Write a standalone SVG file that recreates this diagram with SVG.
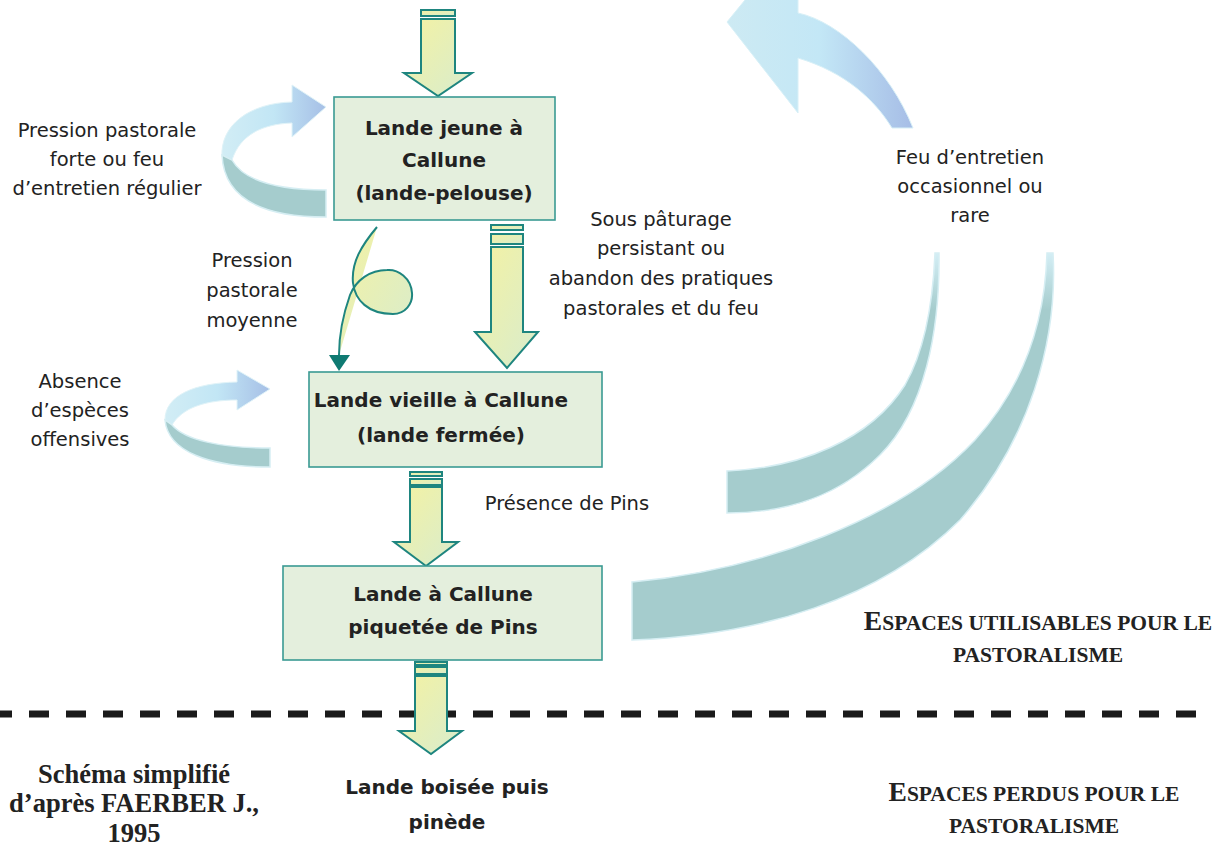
<svg xmlns="http://www.w3.org/2000/svg" width="1220" height="846" viewBox="0 0 1220 846">
<defs>
<linearGradient id="yg" x1="0" y1="0" x2="1" y2="1">
<stop offset="0" stop-color="#f4f2a2"/>
<stop offset="1" stop-color="#d8ecce"/>
</linearGradient>
<linearGradient id="blueH" x1="0" y1="0" x2="1" y2="0">
<stop offset="0" stop-color="#d2edf5"/>
<stop offset="0.5" stop-color="#c2e6f5"/>
<stop offset="1" stop-color="#a6bfe6"/>
</linearGradient>
<linearGradient id="bigBlue" gradientUnits="userSpaceOnUse" x1="727" y1="0" x2="913" y2="0">
<stop offset="0" stop-color="#cdeaf3"/>
<stop offset="0.5" stop-color="#c3e7f6"/>
<stop offset="1" stop-color="#a6bde6"/>
</linearGradient>
<linearGradient id="bandTop" gradientUnits="userSpaceOnUse" x1="0" y1="253" x2="0" y2="310">
<stop offset="0" stop-color="#d4eef5"/>
<stop offset="1" stop-color="#a5cccd"/>
</linearGradient>
<style>
.box{fill:#e4efdd;stroke:#3a9a93;stroke-width:1.6}
.arr{fill:url(#yg);stroke:#1e857f;stroke-width:2;stroke-linejoin:miter}
.teal{fill:#a5cccd;stroke:#d6eef3;stroke-width:1.5}
.lbl{font-family:"DejaVu Sans",sans-serif;font-size:19.5px;fill:#222;text-anchor:middle}
.bold{font-family:"DejaVu Sans",sans-serif;font-size:20px;font-weight:bold;fill:#222;text-anchor:middle}
.ser{font-family:"Liberation Serif",serif;font-weight:bold;fill:#222;text-anchor:middle}
.sc{font-family:"Liberation Serif",serif;font-weight:bold;fill:#222;text-anchor:middle;font-size:21.5px}
</style>
</defs>
<rect width="1220" height="846" fill="#ffffff"/>

<g id="connectors">
  <path d="M727,22 L798,-65 L798,13 C840,22 890,70 913,128 L892,128 C875,100 845,72 798,58 L798,113 Z" fill="url(#bigBlue)" stroke="#d8f0f7" stroke-width="1"/>
  <path d="M727,471 C800,468 870,440 905,385 C925,350 933,300 935,253 L939,253 C940,330 925,410 880,455 C840,495 790,513 727,513 Z" fill="url(#bandTop)" stroke="#d6eef3" stroke-width="1.5"/>
  <path d="M632,582 C760,570 900,520 975,440 C1025,385 1045,320 1047,253 L1053,253 C1058,340 1030,440 960,520 C880,600 760,635 632,640 Z" fill="url(#bandTop)" stroke="#d6eef3" stroke-width="1.5"/>

  <path d="M222,157 C220,125 250,103 292,102 L292,85 L326,107 L292,137 L292,123 C262,124 240,135 232,160 Z" fill="url(#blueH)" stroke="#e0f3f8" stroke-width="1"/>
  <path d="M222,155 C224,200 265,217 326,217 L326,190 C285,190 245,183 232,160 Z" class="teal"/>
  <path d="M165,420 C165,395 195,383 237,382 L237,370 L270,389 L237,410 L237,400 C205,400 182,408 172,425 Z" fill="url(#blueH)" stroke="#e0f3f8" stroke-width="1"/>
  <path d="M165,420 C168,452 210,467 270,467 L270,448 C220,448 185,440 172,425 Z" class="teal"/>

  <path d="M377,227 C362,245 351,262 353,283 C355,300 368,314 393,314 C405,314 413,304 412,293 C411,278 398,269 387,270 C370,270 356,280 350,295 C344,312 339,330 339,355" fill="url(#yg)" stroke="none"/>
  <path d="M377,227 C362,245 351,262 353,283 C355,300 368,314 393,314 C405,314 413,304 412,293 C411,278 398,269 387,270 C370,270 356,280 350,295 C344,312 339,330 339,355" fill="none" stroke="#1e857f" stroke-width="2"/>
  <polygon points="329,355 350,355 339,371" fill="#0f7a72"/>

  <rect x="421" y="10" width="34" height="6" class="arr"/>
  <path d="M421,19 L455,19 L455,73 L472,73 L438,96 L404,73 L421,73 Z" class="arr"/>
  <rect x="491" y="225" width="32" height="5" class="arr"/>
  <rect x="491" y="234" width="32" height="10" class="arr"/>
  <path d="M491,247 L523,247 L523,332 L538,332 L507,368 L475,332 L491,332 Z" class="arr"/>
  <rect x="410" y="472" width="32" height="4" class="arr"/>
  <rect x="410" y="479" width="32" height="6" class="arr"/>
  <path d="M410,487 L442,487 L442,542 L458,542 L426,566 L394,542 L410,542 Z" class="arr"/>
</g>

<line x1="-8" y1="714" x2="1196" y2="714" stroke="#1a1a1a" stroke-width="7" stroke-dasharray="20 17"/>

<g id="connectors-2">
  <rect x="415" y="662" width="32" height="3" class="arr"/>
  <rect x="415" y="667" width="32" height="7" class="arr"/>
  <path d="M415,676 L447,676 L447,731 L462,731 L431,754 L399,731 L415,731 Z" class="arr"/>
</g>

<g id="node-lande-jeune">
  <rect x="334" y="97" width="221" height="123" class="box"/>
  <text class="bold" x="444" y="135">Lande jeune à</text>
  <text class="bold" x="444" y="167">Callune</text>
  <text class="bold" x="444" y="200">(lande-pelouse)</text>
</g>
<g id="node-lande-vieille">
  <rect x="309" y="372" width="293" height="95" class="box"/>
  <text class="bold" x="441" y="407">Lande vieille à Callune</text>
  <text class="bold" x="441" y="442">(lande fermée)</text>
</g>
<g id="node-lande-pins">
  <rect x="283" y="566" width="319" height="94" class="box"/>
  <text class="bold" x="443" y="601">Lande à Callune</text>
  <text class="bold" x="443" y="634">piquetée de Pins</text>
</g>
<g id="node-lande-boisee">
  <text class="bold" x="447" y="794">Lande boisée puis</text>
  <text class="bold" x="447" y="829">pinède</text>
</g>

<g id="labels">
  <text class="lbl" x="107" y="137">Pression pastorale</text>
  <text class="lbl" x="107" y="166">forte ou feu</text>
  <text class="lbl" x="107" y="195">d’entretien régulier</text>

  <text class="lbl" x="252" y="267">Pression</text>
  <text class="lbl" x="252" y="297">pastorale</text>
  <text class="lbl" x="252" y="327">moyenne</text>

  <text class="lbl" x="661" y="226">Sous pâturage</text>
  <text class="lbl" x="661" y="255">persistant ou</text>
  <text class="lbl" x="661" y="285">abandon des pratiques</text>
  <text class="lbl" x="661" y="315">pastorales et du feu</text>

  <text class="lbl" x="970" y="164">Feu d’entretien</text>
  <text class="lbl" x="970" y="193">occasionnel ou</text>
  <text class="lbl" x="970" y="222">rare</text>

  <text class="lbl" x="80" y="388">Absence</text>
  <text class="lbl" x="80" y="417">d’espèces</text>
  <text class="lbl" x="80" y="446">offensives</text>

  <text class="lbl" x="567" y="510">Présence de Pins</text>

  <text class="ser" x="134" y="783" font-size="26.5">Schéma simplifié</text>
  <text class="ser" x="134" y="812" font-size="26.5">d’après FAERBER J.,</text>
  <text class="ser" x="134" y="842" font-size="26.5">1995</text>

  <text class="sc" x="1038" y="630"><tspan font-size="27.5">E</tspan>SPACES UTILISABLES POUR LE</text>
  <text class="sc" x="1038" y="662">PASTORALISME</text>
  <text class="sc" x="1034" y="801"><tspan font-size="27.5">E</tspan>SPACES PERDUS POUR LE</text>
  <text class="sc" x="1034" y="833">PASTORALISME</text>
</g>
</svg>
